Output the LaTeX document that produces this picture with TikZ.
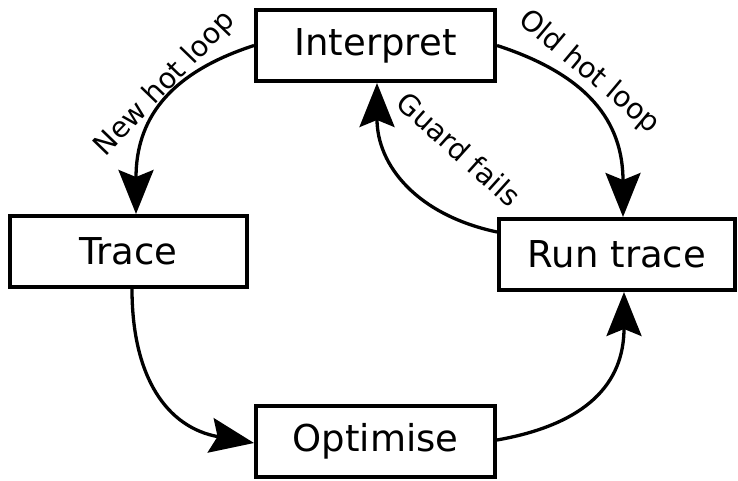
\documentclass[tikz,border=0pt]{standalone}
\usepackage{fontspec}
\setmainfont{DejaVu Sans}
\usetikzlibrary{arrows.meta}
\begin{document}
\begin{tikzpicture}[x=1pt,y=1pt,
  stage/.style={draw, line width=4pt, minimum width=#1, minimum height=71pt,
    inner sep=0pt, font=\fontsize{37}{42}\selectfont},
  flow/.style={line width=3.3pt,
    -{Stealth[length=44pt,width=35pt,inset=7pt]}},
  tag/.style={font=\fontsize{28.5}{32}\selectfont, inner sep=0pt}]
\useasboundingbox (0,0) rectangle (738,480);

% the four stages of the tracing cycle
\node[stage=239pt] (interp) at (375.5,434.5) {Interpret};
\node[stage=237pt] (trace)  at (128.5,228.5) {Trace};
\node[stage=236pt] (runtr)  at (617,225.5)   {Run trace};
\node[stage=239pt] (opt)    at (375.5,39)    {Optimise};

% transitions between the stages
\draw[flow] (interp.west) to[out=198,in=90,looseness=1.15] ([xshift=7.5pt]trace.north);
\draw[flow] (interp.east) to[out=-18,in=90,looseness=1.15] ([xshift=6pt]runtr.north);
\draw[flow] ([yshift=22.5pt]runtr.west) to[out=168,in=-90,looseness=1.1] ([xshift=1.5pt]interp.south);
\draw[flow] ([xshift=3.5pt]trace.south) to[out=-90,in=170,looseness=1.15] ([yshift=-2pt]opt.west);
\draw[flow] ([yshift=1pt]opt.east) to[out=10,in=-90,looseness=1.2] ([xshift=7pt]runtr.south);

% transition labels
\node[tag, rotate=46]  (lnew)   at (165,396) {New hot loop};
\node[tag, rotate=-40] (lold)   at (589,408) {Old hot loop};
\node[tag, rotate=-42] (lguard) at (459,331) {Guard fails};
\end{tikzpicture}
\end{document}
